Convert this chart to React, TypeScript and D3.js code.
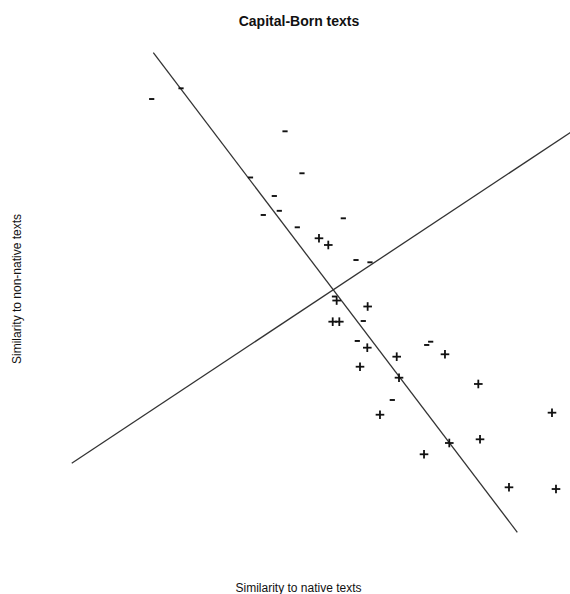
import React from "react";
import * as d3 from "d3";

// Data in arbitrary similarity units (no axes shown in the reference)
const minusX = [2.148, 2.712, 4.712, 4.048, 5.038, 4.506, 4.602, 4.294, 4.948, 5.833, 6.077, 6.346, 5.663, 6.217, 6.102, 7.437, 7.513, 6.775];
const minusY = [8.865, 9.071, 8.244, 7.356, 7.437, 7.0, 6.715, 6.635, 6.398, 6.571, 5.769, 5.725, 5.067, 4.596, 4.212, 4.135, 4.198, 3.077];
const plusX = [5.365, 5.544, 5.705, 6.301, 5.629, 5.756, 6.294, 6.860, 7.788, 6.154, 6.904, 8.429, 6.538, 9.846, 7.871, 8.462, 7.385, 9.019, 9.923];
const plusY = [6.187, 6.058, 4.990, 4.875, 4.583, 4.583, 4.083, 3.910, 3.956, 3.717, 3.506, 3.385, 2.794, 2.833, 2.250, 2.321, 2.033, 1.398, 1.365];
const line1X = [2.179, 9.179];
const line1Y = [9.756, 0.533];
const line2X = [0.610, 10.2];
const line2Y = [1.860, 8.222];

const title = "Capital-Born texts";
const xLabel = "Similarity to native texts";
const yLabel = "Similarity to non-native texts";

const W = 570;
const H = 594;

export default function App() {
  const x = d3.scaleLinear().domain([0, 10]).range([40, 560]);
  const y = d3.scaleLinear().domain([0, 10]).range([560, 40]);
  const font = "'Liberation Sans', Arial, Helvetica, sans-serif";
  const line = d3
    .line<[number, number]>()
    .x((d) => x(d[0]))
    .y((d) => y(d[1]));
  const l1: [number, number][] = line1X.map((v, i) => [v, line1Y[i]]);
  const l2: [number, number][] = line2X.map((v, i) => [v, line2Y[i]]);
  return (
    <svg
      width={W}
      height={H}
      style={{ position: "absolute", left: 0, top: 0, background: "#fff" }}
    >
      <rect width={W} height={H} fill="#fff" />
      <text x={299} y={26} textAnchor="middle" fontFamily={font} fontSize={14} fontWeight="bold" fill="#111">
        {title}
      </text>
      <text x={298.5} y={592} textAnchor="middle" fontFamily={font} fontSize={12} fill="#111">
        {xLabel}
      </text>
      <text
        transform={`translate(21,289) rotate(-90)`}
        textAnchor="middle"
        fontFamily={font}
        fontSize={12}
        fill="#111"
      >
        {yLabel}
      </text>
      <path d={line(l1) || ""} stroke="#333" strokeWidth={1.3} fill="none" />
      <path d={line(l2) || ""} stroke="#333" strokeWidth={1.3} fill="none" />
      {minusX.map((v, i) => {
        const cx = x(v);
        const cy = y(minusY[i]);
        return (
          <line key={"m" + i} x1={cx - 2.6} x2={cx + 2.6} y1={cy} y2={cy} stroke="#111" strokeWidth={1.9} />
        );
      })}
      {plusX.map((v, i) => {
        const cx = x(v);
        const cy = y(plusY[i]);
        return (
          <g key={"p" + i} stroke="#111" strokeWidth={1.8}>
            <line x1={cx - 4.3} x2={cx + 4.3} y1={cy} y2={cy} />
            <line x1={cx} x2={cx} y1={cy - 4.3} y2={cy + 4.3} />
          </g>
        );
      })}
    </svg>
  );
}
